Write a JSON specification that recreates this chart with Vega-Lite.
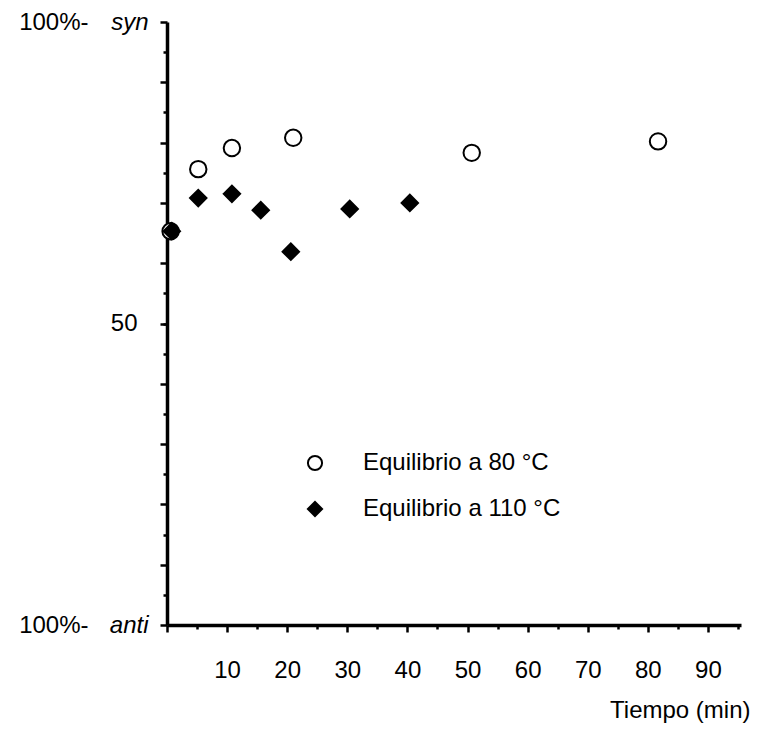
{
  "$schema": "https://vega.github.io/schema/vega-lite/v6.json",
  "width": 574,
  "height": 603,
  "autosize": "none",
  "padding": {"left": 167, "top": 22, "right": 18, "bottom": 104},
  "background": "white",
  "config": {
    "view": {"stroke": null},
    "font": "Liberation Sans",
    "axis": {
      "grid": false,
      "domainColor": "black",
      "tickColor": "black",
      "labelColor": "black",
      "titleColor": "black",
      "labelFont": "Liberation Sans",
      "titleFont": "Liberation Sans",
      "labelFontSize": 24,
      "titleFontSize": 24,
      "titleFontWeight": "normal",
      "labelOverlap": false,
      "labelFlush": false,
      "tickWidth": 2.5,
      "domainWidth": 3.5
    },
    "legend": {
      "orient": "none",
      "legendX": 136,
      "legendY": 429,
      "labelFont": "Liberation Sans",
      "labelFontSize": 24,
      "labelColor": "black",
      "labelLimit": 0,
      "symbolSize": 200,
      "symbolStrokeWidth": 2,
      "symbolStrokeColor": "black",
      "rowPadding": 22,
      "labelOffset": 36,
      "padding": 0
    }
  },
  "data": {
    "values": [
      {"t": 0.6, "v": 65.3, "s": "Equilibrio a 80 °C"},
      {"t": 5.2, "v": 75.6, "s": "Equilibrio a 80 °C"},
      {"t": 10.8, "v": 79.1, "s": "Equilibrio a 80 °C"},
      {"t": 21.0, "v": 80.8, "s": "Equilibrio a 80 °C"},
      {"t": 50.7, "v": 78.3, "s": "Equilibrio a 80 °C"},
      {"t": 81.7, "v": 80.2, "s": "Equilibrio a 80 °C"},
      {"t": 0.8, "v": 65.3, "s": "Equilibrio a 110 °C"},
      {"t": 5.2, "v": 70.8, "s": "Equilibrio a 110 °C"},
      {"t": 10.8, "v": 71.5, "s": "Equilibrio a 110 °C"},
      {"t": 15.6, "v": 68.8, "s": "Equilibrio a 110 °C"},
      {"t": 20.6, "v": 61.9, "s": "Equilibrio a 110 °C"},
      {"t": 30.4, "v": 69.0, "s": "Equilibrio a 110 °C"},
      {"t": 40.4, "v": 70.0, "s": "Equilibrio a 110 °C"}
    ]
  },
  "layer": [
    {
      "mark": {"type": "point", "strokeWidth": 2, "size": 270, "opacity": 1},
      "encoding": {
        "x": {
          "field": "t", "type": "quantitative",
          "scale": {"domain": [0, 95.5], "nice": false, "zero": false},
          "axis": {
            "orient": "bottom",
            "values": [0, 10, 20, 30, 40, 50, 60, 70, 80, 90],
            "tickSize": 7,
            "labelExpr": "datum.value == 0 ? '' : datum.label",
            "labelBaseline": "alphabetic",
            "labelPadding": 45,
            "title": "Tiempo (min)",
            "titleAnchor": null,
            "titleAlign": "right",
            "titleBaseline": "alphabetic",
            "titleX": 583,
            "titleY": 92
          }
        },
        "y": {
          "field": "v", "type": "quantitative",
          "scale": {"domain": [0, 100], "nice": false, "zero": false},
          "axis": {
            "orient": "left",
            "values": [0, 10, 20, 30, 40, 50, 60, 70, 80, 90, 100],
            "tickSize": 7,
            "labelExpr": "datum.value == 100 ? 'syn' : datum.value == 0 ? 'anti' : ''",
            "labelFontStyle": "italic",
            "labelBaseline": "middle",
            "labelPadding": 12,
            "title": null
          }
        },
        "shape": {
          "field": "s", "type": "nominal",
          "scale": {"domain": ["Equilibrio a 80 °C", "Equilibrio a 110 °C"], "range": ["circle", "diamond"]},
          "legend": {"title": null}
        },
        "fill": {
          "field": "s", "type": "nominal",
          "scale": {"domain": ["Equilibrio a 80 °C", "Equilibrio a 110 °C"], "range": ["white", "black"]},
          "legend": {"title": null}
        },
        "stroke": {
          "field": "s", "type": "nominal",
          "scale": {"domain": ["Equilibrio a 80 °C", "Equilibrio a 110 °C"], "range": ["black", "black"]},
          "legend": {"title": null}
        }
      }
    },
    {
      "mark": {"type": "point", "opacity": 0},
      "encoding": {
        "x": {
          "field": "t", "type": "quantitative",
          "axis": {
            "orient": "bottom",
            "values": [5, 15, 25, 35, 45, 55, 65, 75, 85, 95],
            "tickSize": 4,
            "labels": false,
            "domain": false,
            "title": null
          }
        },
        "y": {
          "field": "v", "type": "quantitative",
          "axis": {
            "orient": "left",
            "values": [5, 15, 25, 35, 45, 50, 55, 65, 75, 85, 95],
            "tickSize": 4,
            "labelExpr": "datum.value == 50 ? '50' : ''",
            "labelBaseline": "middle",
            "labelPadding": 26,
            "domain": false,
            "title": null
          }
        }
      }
    },
    {
      "mark": {"type": "point", "opacity": 0},
      "encoding": {
        "x": {"field": "t", "type": "quantitative", "axis": null},
        "y": {
          "field": "v", "type": "quantitative",
          "axis": {
            "orient": "left",
            "values": [0, 100],
            "ticks": false,
            "domain": false,
            "labelExpr": "'100%-'",
            "labelBaseline": "middle",
            "labelPadding": 79,
            "title": null
          }
        }
      }
    }
  ],
  "resolve": {"axis": {"x": "independent", "y": "independent"}}
}
